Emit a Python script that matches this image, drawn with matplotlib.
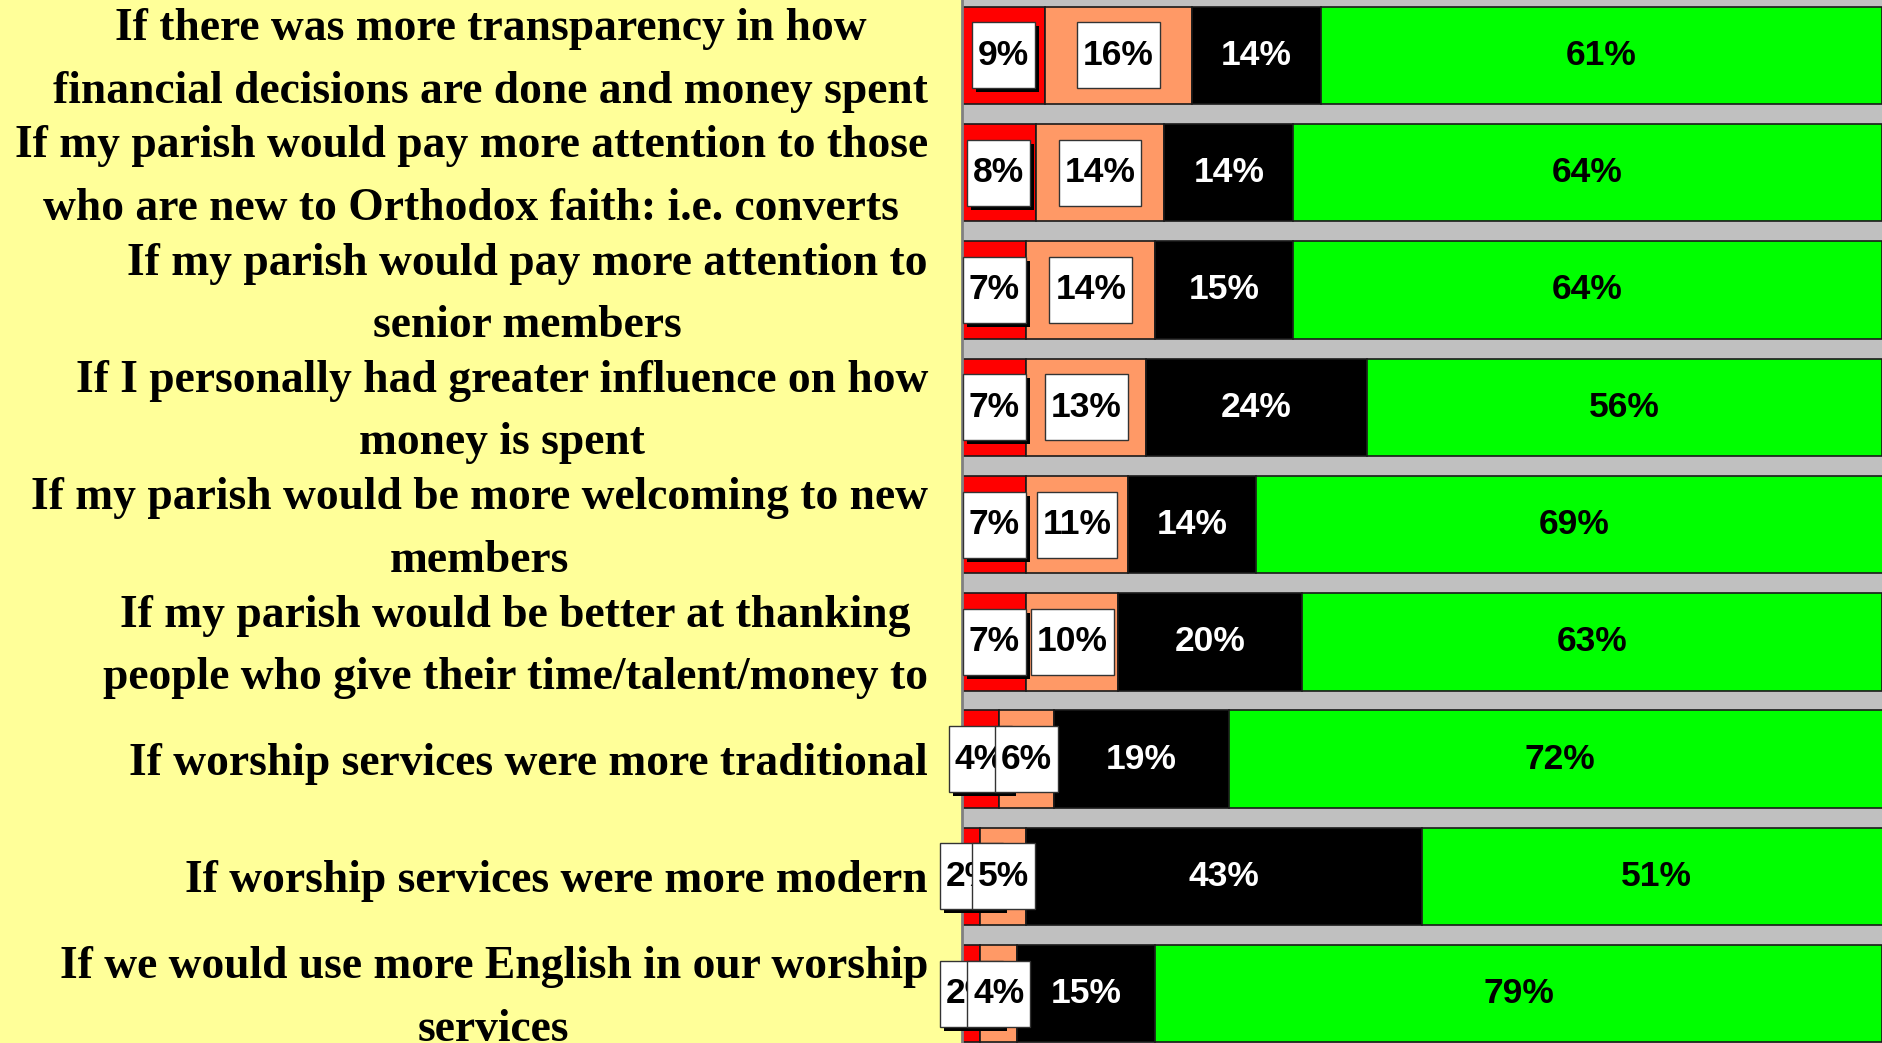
import matplotlib
matplotlib.use("Agg")
import matplotlib.pyplot as plt
import numpy as np
from matplotlib.patches import Rectangle
from matplotlib.transforms import IdentityTransform, ScaledTranslation

# Survey statements (top to bottom) and answer shares in percent
statements = [
    "If there was more transparency in how\nfinancial decisions are done and money spent",
    "If my parish would pay more attention to those\nwho are new to Orthodox faith: i.e. converts",
    "If my parish would pay more attention to\nsenior members",
    "If I personally had greater influence on how\nmoney is spent",
    "If my parish would be more welcoming to new\nmembers",
    "If my parish would be better at thanking\npeople who give their time/talent/money to",
    "If worship services were more traditional",
    "If worship services were more modern",
    "If we would use more English in our worship\nservices",
]
share_red = [9, 8, 7, 7, 7, 7, 4, 2, 2]
share_orange = [16, 14, 14, 13, 11, 10, 6, 5, 4]
share_black = [14, 14, 15, 24, 14, 20, 19, 43, 15]
share_green = [61, 64, 64, 56, 69, 63, 72, 51, 79]

W, H, DPI = 1882, 1043, 100
fig = plt.figure(figsize=(W / DPI, H / DPI), dpi=DPI, facecolor="#FFFF99")
left_px = 962
ax = fig.add_axes([left_px / W, 0, 1 - left_px / W, 1])
ax.set_facecolor("#C0C0C0")

y = np.arange(len(statements))
bar_h = 0.83
series = [
    (share_red, "#FF0000"),
    (share_orange, "#FF9966"),
    (share_black, "#000000"),
    (share_green, "#00FF00"),
]
left = np.zeros(len(statements))
bars = []
for vals, col in series:
    ax.barh(y, vals, left=left, height=bar_h, color=col,
            edgecolor="#1a1a1a", linewidth=1.2, zorder=2)
    bars.append((vals, left.copy()))
    left = left + np.array(vals)

ax.set_xlim(0, 100)
ax.set_ylim(8.42, -0.472)
ax.set_xticks([])
ax.set_yticks(y)
ax.set_yticklabels(statements, fontfamily="Liberation Serif", fontweight="bold",
                   fontsize=32.8, multialignment="center", linespacing=1.64,
                   va="center")
ax.tick_params(axis="y", length=0, pad=24.5)
# nudge the statement labels slightly downward
nudge = ScaledTranslation(0, -5 / DPI, fig.dpi_scale_trans)
for lab in ax.get_yticklabels():
    lab.set_transform(lab.get_transform() + nudge)
for s in ["top", "right", "bottom"]:
    ax.spines[s].set_visible(False)
ax.spines["left"].set_color("#808080")
ax.spines["left"].set_linewidth(2)

lab_font = dict(fontfamily="Liberation Sans", fontweight="bold", fontsize=25.5)

# Values on the dark and green segments
(vr, lr), (vo, lo), (vb, lb), (vg, lg) = bars
for i in range(len(y)):
    ax.text(lb[i] + vb[i] / 2, y[i], f"{vb[i]}%", ha="center", va="center",
            color="white", zorder=4, **lab_font)
    ax.text(lg[i] + vg[i] / 2, y[i], f"{vg[i]}%", ha="center", va="center",
            color="black", zorder=4, **lab_font)

# Boxed labels on the red and orange segments
boxed = []
for i in range(len(y)):
    t1 = ax.text(lr[i] + vr[i] / 2, y[i], f"{vr[i]}%", ha="center", va="center",
                 color="black", zorder=7, clip_on=False, **lab_font)
    boxed.append((t1, True, 5))
    t2 = ax.text(lo[i] + vo[i] / 2, y[i], f"{vo[i]}%", ha="center", va="center",
                 color="black", zorder=10, clip_on=False, **lab_font)
    boxed.append((t2, False, 8))

fig.canvas.draw()
renderer = fig.canvas.get_renderer()
box_h = 66
for t, shadow, z in boxed:
    bb = t.get_window_extent(renderer)
    cx, cy = (bb.x0 + bb.x1) / 2, (bb.y0 + bb.y1) / 2
    w = bb.width + 12
    x0, y0 = cx - w / 2, cy - box_h / 2
    if shadow:
        ax.add_patch(Rectangle((x0 + 4, y0 - 4), w, box_h, transform=IdentityTransform(),
                               facecolor="black", edgecolor="none", zorder=z,
                               clip_on=False))
    ax.add_patch(Rectangle((x0, y0), w, box_h, transform=IdentityTransform(),
                           facecolor="white", edgecolor="#333333", linewidth=1,
                           zorder=z + 0.5, clip_on=False))

fig.savefig("out.png", dpi=DPI, facecolor=fig.get_facecolor())
